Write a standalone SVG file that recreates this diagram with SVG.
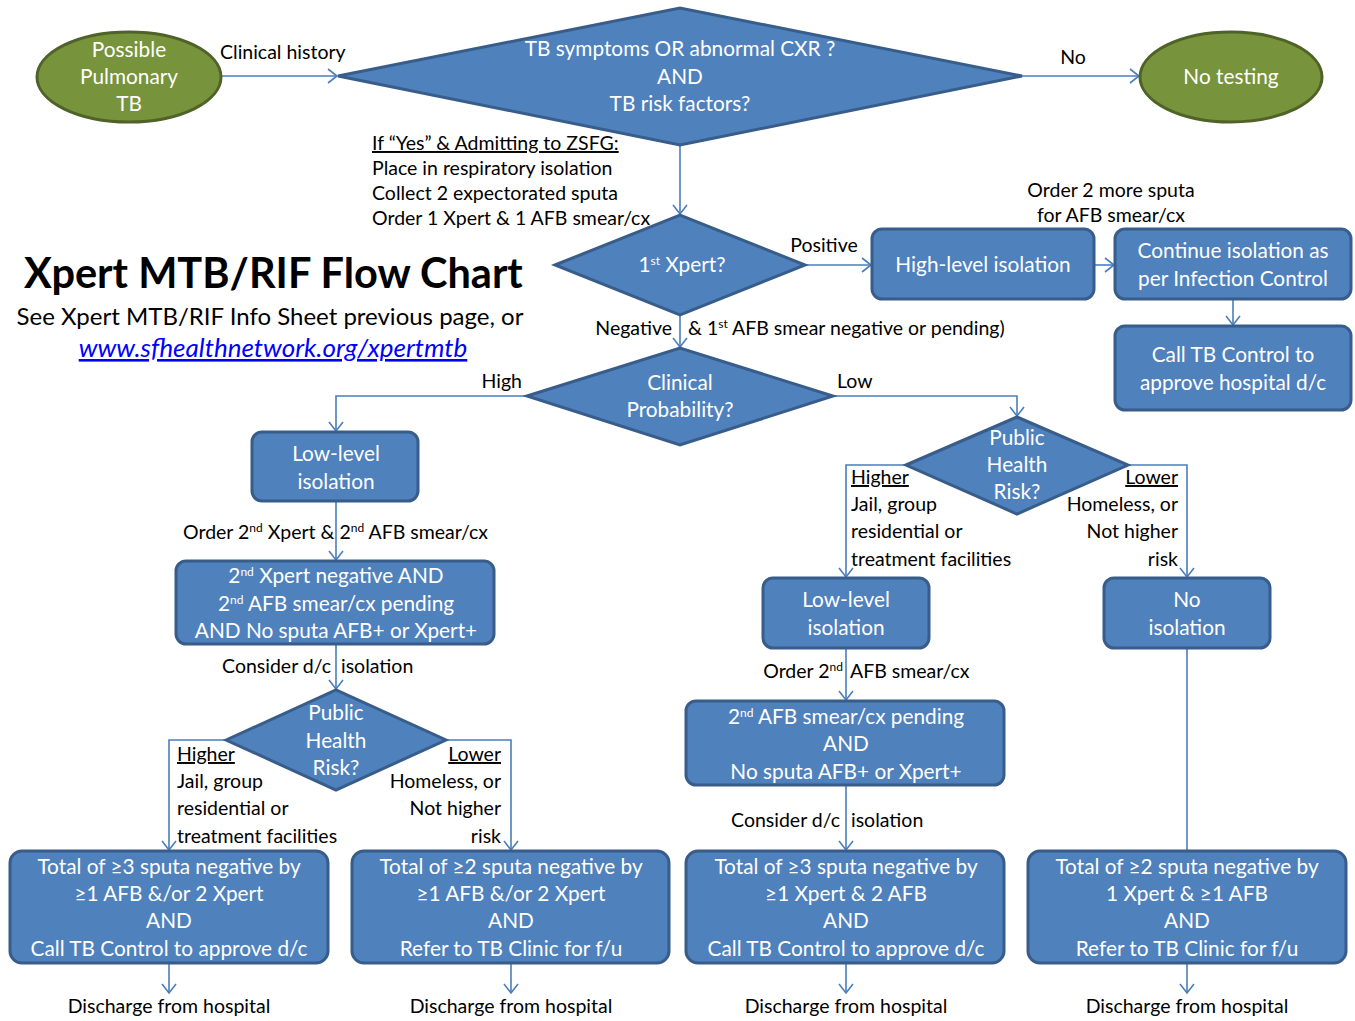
<svg xmlns="http://www.w3.org/2000/svg" width="1355" height="1021" viewBox="0 0 1355 1021">
<style>
text{font-family:Lato,"Open Sans","Liberation Sans",sans-serif;font-size:19.5px}
.w{fill:#fff;text-anchor:middle;font-size:20.8px}
.k{fill:#000}
.c{text-anchor:middle}
.e{text-anchor:end}
.box{fill:#4F81BD;stroke:#385D8A;stroke-width:3}
.ell{fill:#77933C;stroke:#4F6228;stroke-width:3}
.con{fill:none;stroke:#4A7EBB;stroke-width:1.6}
.u{text-decoration:underline}
.title{font-size:41.5px;font-weight:bold}
.sub{font-size:24px}
.link{font-size:26px;font-style:italic;fill:#0000FF;text-decoration:underline}
</style>
<defs>
<marker id="a" markerUnits="userSpaceOnUse" markerWidth="12" markerHeight="16" viewBox="0 0 12 16" refX="10" refY="8" orient="auto">
<path d="M1,1 L10,8 L1,15" fill="none" stroke="#4A7EBB" stroke-width="1.6"/>
</marker>
</defs>
<rect width="1355" height="1021" fill="#fff"/>

<g id="connectors">
<path class="con" d="M221,76 H337" marker-end="url(#a)"/>
<path class="con" d="M1022,76 H1139" marker-end="url(#a)"/>
<path class="con" d="M680,145 V214" marker-end="url(#a)"/>
<path class="con" d="M805,265 H871" marker-end="url(#a)"/>
<path class="con" d="M1094,265 H1114" marker-end="url(#a)"/>
<path class="con" d="M1233,299 V325" marker-end="url(#a)"/>
<path class="con" d="M680,315 V347" marker-end="url(#a)"/>
<path class="con" d="M527,396 H336 V431" marker-end="url(#a)"/>
<path class="con" d="M833,396 H1017 V416" marker-end="url(#a)"/>
<path class="con" d="M336,501 V560" marker-end="url(#a)"/>
<path class="con" d="M336,644 V689" marker-end="url(#a)"/>
<path class="con" d="M226,740 H169 V850" marker-end="url(#a)"/>
<path class="con" d="M446,740 H511 V850" marker-end="url(#a)"/>
<path class="con" d="M906,465 H846 V577" marker-end="url(#a)"/>
<path class="con" d="M1128,465 H1187 V577" marker-end="url(#a)"/>
<path class="con" d="M846,648 V700" marker-end="url(#a)"/>
<path class="con" d="M846,785 V850" marker-end="url(#a)"/>
<path class="con" d="M1187,648 V851"/>
<path class="con" d="M169,963 V993" marker-end="url(#a)"/>
<path class="con" d="M511,963 V993" marker-end="url(#a)"/>
<path class="con" d="M846,963 V993" marker-end="url(#a)"/>
<path class="con" d="M1187,963 V993" marker-end="url(#a)"/>
</g>

<g id="labels">
<text class="k" x="220" y="59">Clinical history</text>
<text class="k c" x="1073" y="64">No</text>
<text class="k" x="372" y="150"><tspan class="u">If “Yes” &amp; Admitting to ZSFG:</tspan></text>
<text class="k" x="372" y="175">Place in respiratory isolation</text>
<text class="k" x="372" y="200">Collect 2 expectorated sputa</text>
<text class="k" x="372" y="225">Order 1 Xpert &amp; 1 AFB smear/cx</text>
<text class="k c" x="1111" y="197">Order 2 more sputa</text>
<text class="k c" x="1111" y="222">for AFB smear/cx</text>
<text class="k c" x="824" y="252">Positive</text>
<text class="k e" x="672" y="335">Negative</text>
<text class="k" x="688" y="335">&amp; 1<tspan font-size="12" baseline-shift="super">st</tspan> AFB smear negative or pending)</text>
<text class="k e" x="522" y="388">High</text>
<text class="k" x="837" y="388">Low</text>
<text class="k" x="183" y="539">Order 2<tspan font-size="12" baseline-shift="super">nd</tspan> Xpert &amp; 2<tspan font-size="12" baseline-shift="super">nd</tspan> AFB smear/cx</text>
<text class="k e" x="331" y="673">Consider d/c</text>
<text class="k" x="341" y="673">isolation</text>
<text class="k" x="177" y="761"><tspan class="u">Higher</tspan></text>
<text class="k" x="177" y="788">Jail, group</text>
<text class="k" x="177" y="815">residential or</text>
<text class="k" x="177" y="843">treatment facilities</text>
<text class="k e" x="501" y="761"><tspan class="u">Lower</tspan></text>
<text class="k e" x="501" y="788">Homeless, or</text>
<text class="k e" x="501" y="815">Not higher</text>
<text class="k e" x="501" y="843">risk</text>
<text class="k" x="851" y="484"><tspan class="u">Higher</tspan></text>
<text class="k" x="851" y="511">Jail, group</text>
<text class="k" x="851" y="538">residential or</text>
<text class="k" x="851" y="566">treatment facilities</text>
<text class="k e" x="1178" y="484"><tspan class="u">Lower</tspan></text>
<text class="k e" x="1178" y="511">Homeless, or</text>
<text class="k e" x="1178" y="538">Not higher</text>
<text class="k e" x="1178" y="566">risk</text>
<text class="k e" x="843" y="678">Order 2<tspan font-size="12" baseline-shift="super">nd</tspan></text>
<text class="k" x="850" y="678">AFB smear/cx</text>
<text class="k e" x="840" y="827">Consider d/c</text>
<text class="k" x="851" y="827">isolation</text>
<text class="k c" x="169" y="1013">Discharge from hospital</text>
<text class="k c" x="511" y="1013">Discharge from hospital</text>
<text class="k c" x="846" y="1013">Discharge from hospital</text>
<text class="k c" x="1187" y="1013">Discharge from hospital</text>
</g>

<g id="title">
<text class="k title" x="24" y="288">Xpert MTB/RIF Flow Chart</text>
<text class="k c sub" x="270" y="325">See Xpert MTB/RIF Info Sheet previous page, or</text>
<text class="c link" x="273" y="357">www.sfhealthnetwork.org/xpertmtb</text>
</g>

<g id="n-possible">
<ellipse class="ell" cx="129" cy="77" rx="92" ry="45"/>
<text class="w" x="129" y="57">Possible</text>
<text class="w" x="129" y="84">Pulmonary</text>
<text class="w" x="129" y="111">TB</text>
</g>
<g id="n-symptoms">
<polygon class="box" points="338,76 680,8 1022,76 680,145"/>
<text class="w" x="680" y="56">TB symptoms OR abnormal CXR ?</text>
<text class="w" x="680" y="84">AND</text>
<text class="w" x="680" y="111">TB risk factors?</text>
</g>
<g id="n-notesting">
<ellipse class="ell" cx="1231" cy="77" rx="91" ry="45"/>
<text class="w" x="1231" y="84">No testing</text>
</g>
<g id="n-xpert1">
<polygon class="box" points="555,265 680,215 805,265 680,315"/>
<text class="w" x="682" y="272">1<tspan font-size="12" baseline-shift="super">st</tspan> Xpert?</text>
</g>
<g id="n-highiso">
<rect class="box" x="872" y="229" width="222" height="70" rx="10"/>
<text class="w" x="983" y="272">High-level isolation</text>
</g>
<g id="n-continue">
<rect class="box" x="1115" y="229" width="236" height="70" rx="10"/>
<text class="w" x="1233" y="258">Continue isolation as</text>
<text class="w" x="1233" y="286">per Infection Control</text>
</g>
<g id="n-calltb">
<rect class="box" x="1115" y="326" width="236" height="84" rx="10"/>
<text class="w" x="1233" y="362">Call TB Control to</text>
<text class="w" x="1233" y="390">approve hospital d/c</text>
</g>
<g id="n-clinprob">
<polygon class="box" points="527,396 680,348 833,396 680,445"/>
<text class="w" x="680" y="390">Clinical</text>
<text class="w" x="680" y="417">Probability?</text>
</g>
<g id="n-lowiso-l">
<rect class="box" x="252" y="432" width="166" height="69" rx="10"/>
<text class="w" x="336" y="461">Low-level</text>
<text class="w" x="336" y="489">isolation</text>
</g>
<g id="n-xpert2neg">
<rect class="box" x="176" y="561" width="318" height="83" rx="10"/>
<text class="w" x="336" y="583">2<tspan font-size="12" baseline-shift="super">nd</tspan> Xpert negative AND</text>
<text class="w" x="336" y="611">2<tspan font-size="12" baseline-shift="super">nd</tspan> AFB smear/cx pending</text>
<text class="w" x="336" y="638">AND No sputa AFB+ or Xpert+</text>
</g>
<g id="n-phr-l">
<polygon class="box" points="226,740 336,690 446,740 336,790"/>
<text class="w" x="336" y="720">Public</text>
<text class="w" x="336" y="748">Health</text>
<text class="w" x="336" y="775">Risk?</text>
</g>
<g id="n-phr-r">
<polygon class="box" points="906,465 1017,417 1128,465 1017,514"/>
<text class="w" x="1017" y="445">Public</text>
<text class="w" x="1017" y="472">Health</text>
<text class="w" x="1017" y="499">Risk?</text>
</g>
<g id="n-lowiso-r">
<rect class="box" x="763" y="578" width="166" height="70" rx="10"/>
<text class="w" x="846" y="607">Low-level</text>
<text class="w" x="846" y="635">isolation</text>
</g>
<g id="n-noiso">
<rect class="box" x="1104" y="578" width="166" height="70" rx="10"/>
<text class="w" x="1187" y="607">No</text>
<text class="w" x="1187" y="635">isolation</text>
</g>
<g id="n-afb2pend">
<rect class="box" x="686" y="701" width="318" height="84" rx="10"/>
<text class="w" x="846" y="724">2<tspan font-size="12" baseline-shift="super">nd</tspan> AFB smear/cx pending</text>
<text class="w" x="846" y="751">AND</text>
<text class="w" x="846" y="779">No sputa AFB+ or Xpert+</text>
</g>
<g id="n-b1">
<rect class="box" x="10" y="851" width="318" height="112" rx="12"/>
<text class="w" x="169" y="874">Total of ≥3 sputa negative by</text>
<text class="w" x="169" y="901">≥1 AFB &amp;/or 2 Xpert</text>
<text class="w" x="169" y="928">AND</text>
<text class="w" x="169" y="956">Call TB Control to approve d/c</text>
</g>
<g id="n-b2">
<rect class="box" x="352" y="851" width="317" height="112" rx="12"/>
<text class="w" x="511" y="874">Total of ≥2 sputa negative by</text>
<text class="w" x="511" y="901">≥1 AFB &amp;/or 2 Xpert</text>
<text class="w" x="511" y="928">AND</text>
<text class="w" x="511" y="956">Refer to TB Clinic for f/u</text>
</g>
<g id="n-b3">
<rect class="box" x="686" y="851" width="318" height="112" rx="12"/>
<text class="w" x="846" y="874">Total of ≥3 sputa negative by</text>
<text class="w" x="846" y="901">≥1 Xpert &amp; 2 AFB</text>
<text class="w" x="846" y="928">AND</text>
<text class="w" x="846" y="956">Call TB Control to approve d/c</text>
</g>
<g id="n-b4">
<rect class="box" x="1028" y="851" width="318" height="112" rx="12"/>
<text class="w" x="1187" y="874">Total of ≥2 sputa negative by</text>
<text class="w" x="1187" y="901">1 Xpert &amp; ≥1 AFB</text>
<text class="w" x="1187" y="928">AND</text>
<text class="w" x="1187" y="956">Refer to TB Clinic for f/u</text>
</g>
</svg>
